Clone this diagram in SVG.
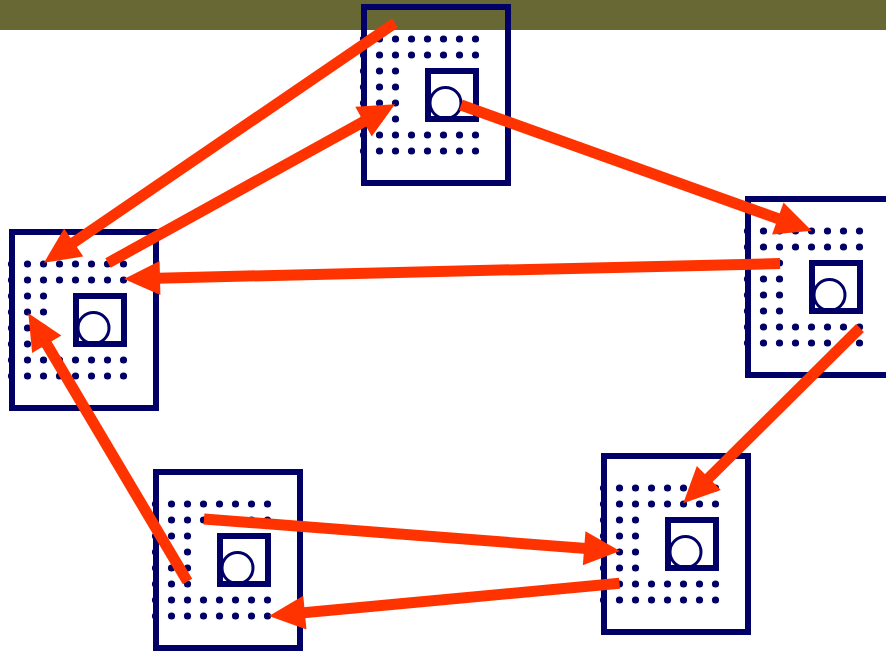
<svg xmlns="http://www.w3.org/2000/svg" xmlns:xlink="http://www.w3.org/1999/xlink" width="886" height="652" viewBox="0 0 886 652">
<style>
.frame{fill:none;stroke:#000066;stroke-width:6}
.pad{fill:none;stroke:#000066;stroke-width:6}
.ring{fill:none;stroke:#000066;stroke-width:3}
.dot{fill:#000066}
.arrow{fill:none;stroke:#ff3300;stroke-width:11;stroke-linecap:butt;marker-end:url(#head)}
</style>
<defs>
<marker id="head" markerUnits="userSpaceOnUse" viewBox="0 0 36 34" markerWidth="36" markerHeight="34" refX="12" refY="17" orient="auto" overflow="visible">
<path d="M0,0 L36,17 L0,34 Z" fill="#ff3300"/>
</marker>
<g id="chip">
<rect class="frame" x="0" y="0" width="144" height="176"/>
<g class="dot">
<circle cx="-0.5" cy="32" r="3.6"/><circle cx="15.5" cy="32" r="3.6"/><circle cx="31.5" cy="32" r="3.6"/><circle cx="47.5" cy="32" r="3.6"/><circle cx="63.5" cy="32" r="3.6"/><circle cx="79.5" cy="32" r="3.6"/><circle cx="95.5" cy="32" r="3.6"/><circle cx="111.5" cy="32" r="3.6"/>
<circle cx="-0.5" cy="48" r="3.6"/><circle cx="15.5" cy="48" r="3.6"/><circle cx="31.5" cy="48" r="3.6"/><circle cx="47.5" cy="48" r="3.6"/><circle cx="63.5" cy="48" r="3.6"/><circle cx="79.5" cy="48" r="3.6"/><circle cx="95.5" cy="48" r="3.6"/><circle cx="111.5" cy="48" r="3.6"/>
<circle cx="-0.5" cy="64" r="3.6"/><circle cx="15.5" cy="64" r="3.6"/><circle cx="31.5" cy="64" r="3.6"/>
<circle cx="-0.5" cy="80" r="3.6"/><circle cx="15.5" cy="80" r="3.6"/><circle cx="31.5" cy="80" r="3.6"/>
<circle cx="-0.5" cy="96" r="3.6"/><circle cx="15.5" cy="96" r="3.6"/><circle cx="31.5" cy="96" r="3.6"/>
<circle cx="-0.5" cy="112" r="3.6"/><circle cx="15.5" cy="112" r="3.6"/><circle cx="31.5" cy="112" r="3.6"/>
<circle cx="-0.5" cy="128" r="3.6"/><circle cx="15.5" cy="128" r="3.6"/><circle cx="31.5" cy="128" r="3.6"/><circle cx="47.5" cy="128" r="3.6"/><circle cx="63.5" cy="128" r="3.6"/><circle cx="79.5" cy="128" r="3.6"/><circle cx="95.5" cy="128" r="3.6"/><circle cx="111.5" cy="128" r="3.6"/>
<circle cx="-0.5" cy="144" r="3.6"/><circle cx="15.5" cy="144" r="3.6"/><circle cx="31.5" cy="144" r="3.6"/><circle cx="47.5" cy="144" r="3.6"/><circle cx="63.5" cy="144" r="3.6"/><circle cx="79.5" cy="144" r="3.6"/><circle cx="95.5" cy="144" r="3.6"/><circle cx="111.5" cy="144" r="3.6"/>
</g>
<circle class="ring" cx="81.5" cy="96" r="15.5"/>
<rect class="pad" x="64" y="64" width="48" height="48"/>
</g>
</defs>
<rect x="0" y="0" width="886" height="652" fill="#ffffff"/>
<rect x="0" y="0" width="886" height="30" fill="#686834"/>
<g id="node-top" transform="translate(364,7)"><use xlink:href="#chip"/></g>
<g id="node-left" transform="translate(12,232)"><use xlink:href="#chip"/></g>
<g id="node-right" transform="translate(748,199)"><use xlink:href="#chip"/></g>
<g id="node-bottom-left" transform="translate(156,472)"><use xlink:href="#chip"/></g>
<g id="node-bottom-right" transform="translate(604,456)"><use xlink:href="#chip"/></g>
<g id="connectors">
<path class="arrow" d="M395,23 L63.8,249.2"/>
<path class="arrow" d="M108,263 L374,115.9"/>
<path class="arrow" d="M461,105 L789.1,222.6"/>
<path class="arrow" d="M780,263.5 L148,278.4"/>
<path class="arrow" d="M860,328 L700.3,486.4"/>
<path class="arrow" d="M204,519 L596.1,549.2"/>
<path class="arrow" d="M619.5,583.3 L292.9,613.8"/>
<path class="arrow" d="M187.5,581.5 L40.6,333.9"/>
</g>
</svg>
